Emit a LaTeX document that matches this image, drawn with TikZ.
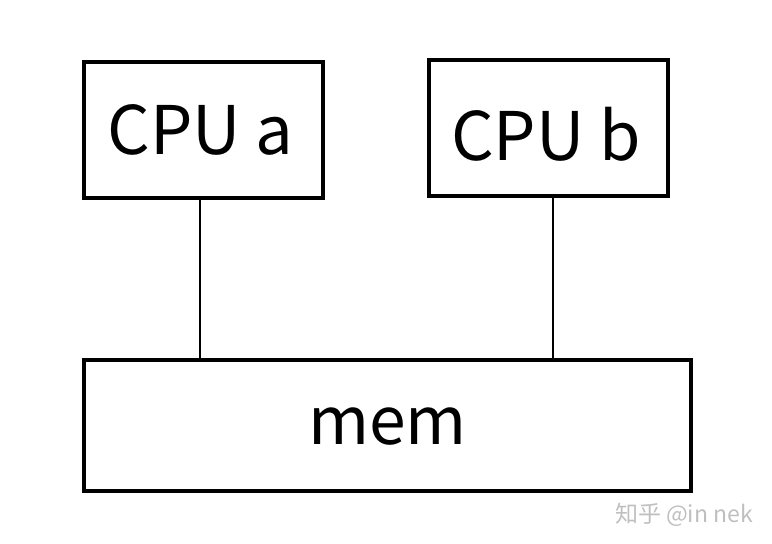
\documentclass[tikz,border=0pt]{standalone}
\usepackage{fontspec}
\setmainfont{Noto Sans CJK SC}
\newfontfamily\cjk{Noto Sans CJK SC}

\tikzset{
    unitbox/.style={draw, line width=2pt, minimum width=119.5pt, minimum height=68pt, inner sep=0pt,
        font=\fontsize{33.5}{40}\selectfont},
    bus/.style={line width=1pt}
}

\begin{document}
\begin{tikzpicture}[x=0.5pt, y=-0.5pt]

    \useasboundingbox (0, 0) rectangle (772, 544);

    \node[unitbox] (cpua) at (203.5, 130) {\hspace*{-3pt}CPU a};
    \node[unitbox, text height=33pt, text depth=0pt] (cpub) at (548, 128) {\hspace*{-2pt}CPU b};
    \node[unitbox, minimum width=303.5pt, minimum height=65.5pt, text height=19.5pt, text depth=0pt,
        font=\fontsize{33}{40}\selectfont] (mem) at (387.5, 425.5) {mem};
    \node[text=black!25, font=\cjk\fontsize{11.5}{14}\selectfont] (mark) at (684, 515) {知乎 @in nek};

    \draw [bus] ([xshift=-1.75pt]cpua.south) to ([xshift=-1.75pt]cpua.south |- mem.north);
    \draw [bus] ([xshift=2.5pt]cpub.south) to ([xshift=2.5pt, yshift=-1.5pt]cpub.south |- mem.north);

\end{tikzpicture}
\end{document}
